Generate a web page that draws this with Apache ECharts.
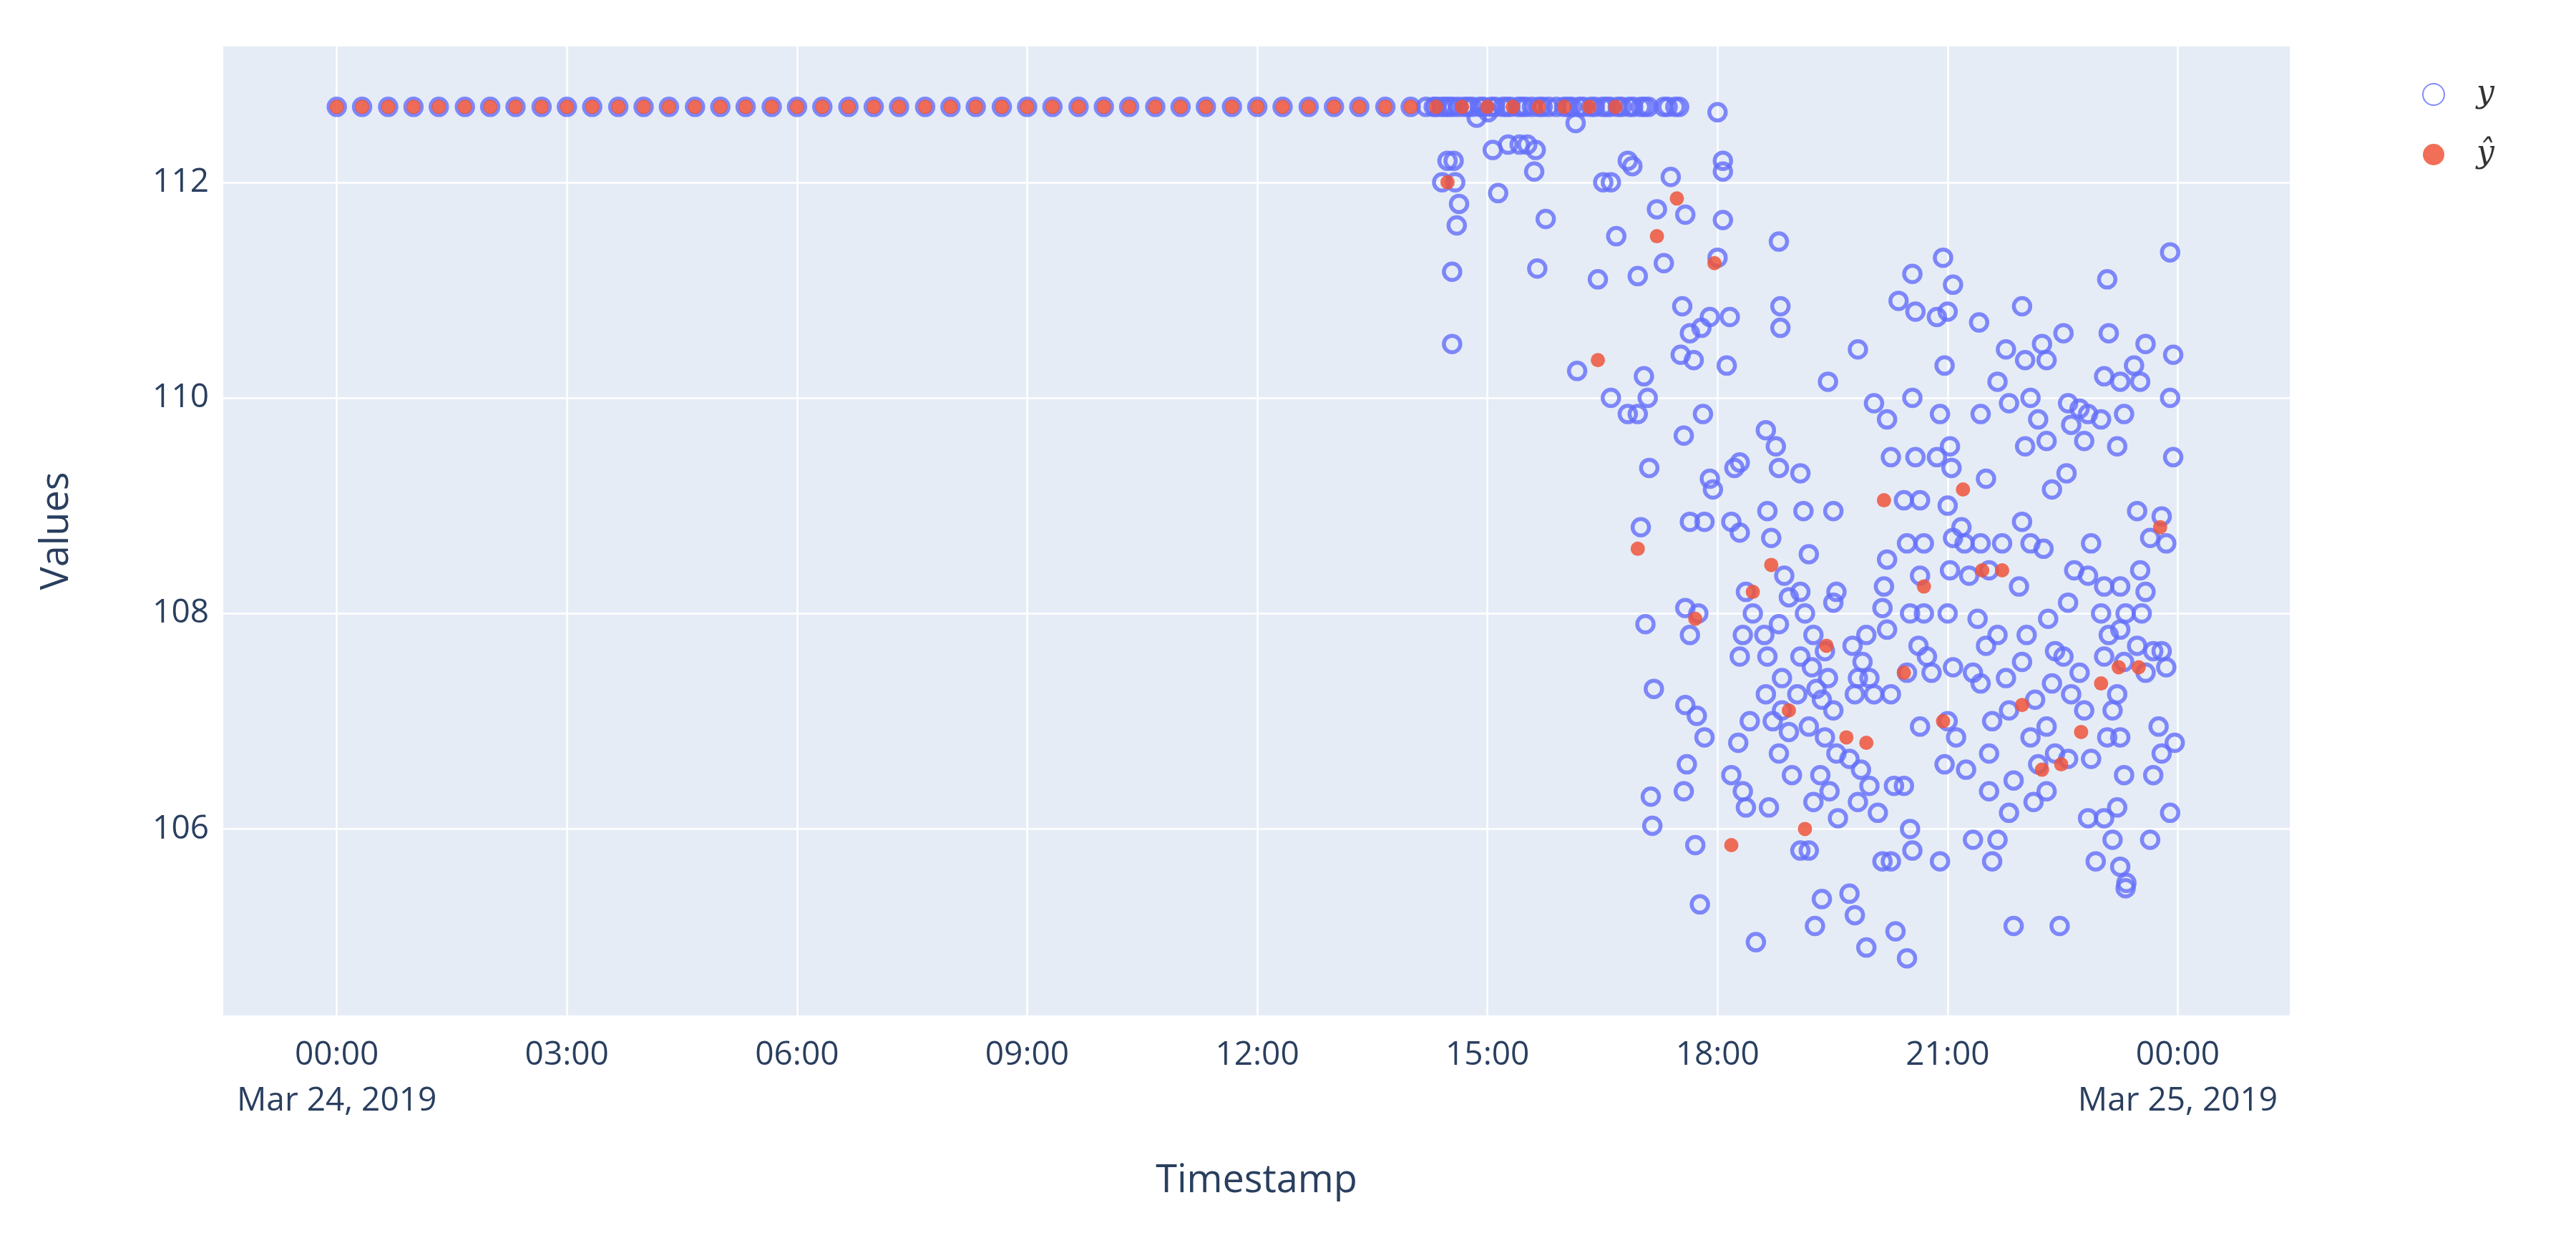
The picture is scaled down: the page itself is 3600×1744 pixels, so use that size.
<!DOCTYPE html>
<html><head><meta charset="utf-8">
<script src="https://cdn.jsdelivr.net/npm/echarts@6/dist/echarts.min.js"></script>
<style>html,body{margin:0;background:#fff}#c{width:3600px;height:1744px}</style></head>
<body><div id="c"></div>
<script>
// Time in hours since Mar 24, 2019 00:00
const flatValue = 112.7;
const flatTimesBoth = [0,0.33,0.67,1,1.33,1.67,2,2.33,2.67,3,3.33,3.67,4,4.33,4.67,5,5.33,5.67,6,6.33,6.67,7,7.33,7.67,8,8.33,8.67,9,9.33,9.67,10,10.33,10.67,11,11.33,11.67,12,12.33,12.67,13,13.33,13.67,14,14.33];
const flatTimesYOnly = [14.2,14.3,14.4,14.45,14.5,14.55,14.62,14.7,14.75,14.8,14.9,14.95,15.05,15.1,15.2,15.25,15.3,15.4,15.45,15.5,15.58,15.67,15.72,15.8,15.9,16.0,16.05,16.1,16.2,16.25,16.35,16.4,16.5,16.55,16.6,16.7,16.75,16.85,16.9,17.0,17.05,17.1,17.3,17.35,17.45,17.5];
const flatTimesYhatOnly = [14.67,15.0,15.33,15.67,16.0,16.33,16.67];
const yScatter = [
[14.48,112.2],[14.56,112.2],[14.41,112.0],[14.58,112.0],[14.63,111.8],[14.60,111.6],[14.54,111.17],[14.54,110.5],
[14.86,112.6],[15.01,112.65],[15.07,112.3],[15.14,111.9],[15.27,112.35],[15.42,112.35],[15.52,112.35],[15.63,112.3],[15.61,112.1],[15.76,111.66],[15.65,111.2],
[16.15,112.55],[16.51,112.0],[16.61,112.0],[16.68,111.5],[16.44,111.1],[16.17,110.25],[16.83,112.2],[16.89,112.15],[16.61,110.0],[17.04,110.2],[17.09,110.0],
[17.21,111.75],[17.30,111.25],[17.39,112.05],[16.96,111.13],[17.06,107.9],[17.11,109.35],[17.17,107.3],[17.0,108.8],[17.13,106.3],[17.15,106.03],[16.83,109.85],[16.96,109.85],
[17.58,111.7],[17.54,110.85],[17.64,110.6],[17.52,110.4],[17.69,110.35],[17.56,109.65],[17.79,110.65],[17.9,110.75],[18.0,111.3],[18.07,112.2],[18.07,111.65],[18.12,110.3],[18.0,112.65],[18.07,112.1],[18.16,110.75],
[17.81,109.85],[17.94,109.15],[17.9,109.25],[17.64,108.85],[17.83,108.85],[17.58,108.05],[17.64,107.8],[17.75,108.0],[17.58,107.15],[17.73,107.05],[17.83,106.85],[17.6,106.6],[17.56,106.35],[17.71,105.85],[17.77,105.3],
[18.22,109.35],[18.29,109.4],[18.18,108.85],[18.29,108.75],[18.37,108.2],[18.33,107.8],[18.46,108.0],[18.29,107.6],[18.42,107.0],[18.27,106.8],[18.18,106.5],[18.33,106.35],[18.37,106.2],[18.5,104.95],
[18.63,109.7],[18.76,109.55],[18.8,109.35],[18.8,111.45],[18.82,110.85],[18.82,110.65],[18.65,108.95],[18.7,108.7],[18.87,108.35],[18.93,108.15],[18.8,107.9],[18.61,107.8],[18.65,107.6],[18.84,107.4],[18.63,107.25],[18.84,107.1],[18.72,107.0],[18.8,106.7],[18.67,106.2],[18.93,106.9],[18.97,106.5],
[19.08,109.3],[19.12,108.95],[19.19,108.55],[19.08,108.2],[19.14,108.0],[19.25,107.8],[19.08,107.6],[19.23,107.5],[19.04,107.25],[19.29,107.3],[19.19,106.95],[19.34,106.5],[19.25,106.25],[19.08,105.8],[19.19,105.8],[19.27,105.1],[19.36,105.35],
[19.44,110.15],[19.51,108.95],[19.55,108.2],[19.51,108.1],[19.4,107.65],[19.44,107.4],[19.36,107.2],[19.51,107.1],[19.4,106.85],[19.55,106.7],[19.46,106.35],[19.57,106.1],[19.72,105.4],[19.79,105.2],
[19.83,110.45],[19.94,107.8],[19.76,107.7],[19.89,107.55],[19.83,107.4],[19.79,107.25],[19.98,107.4],[20.04,107.25],[19.72,106.65],[19.87,106.55],[19.98,106.4],[19.83,106.25],[19.94,104.9],
[20.04,109.95],[20.09,106.15],[20.15,105.7],[20.21,109.8],[20.26,109.45],[20.21,108.5],[20.17,108.25],[20.15,108.05],[20.21,107.85],[20.26,107.25],[20.3,106.4],[20.26,105.7],[20.32,105.05],
[20.36,110.9],[20.43,109.05],[20.47,108.65],[20.51,108.0],[20.47,107.45],[20.43,106.4],[20.51,106.0],[20.54,105.8],[20.47,104.8],
[20.54,111.15],[20.58,110.8],[20.54,110.0],[20.58,109.45],[20.64,109.05],[20.69,108.65],[20.64,108.35],[20.69,108.0],[20.62,107.7],[20.73,107.6],[20.64,106.95],[20.79,107.45],
[20.86,109.45],[20.9,109.85],[20.96,110.3],[20.86,110.75],[20.94,111.3],[21.07,111.05],[21.0,110.8],[21.03,109.55],[21.05,109.35],[21.0,109.0],[21.07,108.7],[21.03,108.4],[21.0,108.0],[21.07,107.5],[21.0,107.0],[21.11,106.85],[20.96,106.6],[20.9,105.7],
[21.18,108.8],[21.22,108.65],[21.28,108.35],[21.33,107.45],[21.24,106.55],[21.33,105.9],
[21.41,110.7],[21.43,109.85],[21.5,109.25],[21.43,108.65],[21.54,108.4],[21.39,107.95],[21.5,107.7],[21.43,107.35],[21.58,107.0],[21.54,106.7],[21.65,105.9],[21.58,105.7],[21.54,106.35],
[21.76,110.45],[21.65,110.15],[21.8,109.95],[21.71,108.65],[21.65,107.8],[21.76,107.4],[21.8,107.1],[21.86,106.45],[21.8,106.15],[21.86,105.1],
[21.97,110.85],[22.01,110.35],[22.08,110.0],[22.01,109.55],[21.97,108.85],[22.08,108.65],[21.93,108.25],[22.03,107.8],[21.97,107.55],[22.14,107.2],[22.08,106.85],[22.18,106.6],[22.12,106.25],
[22.23,110.5],[22.29,110.35],[22.18,109.8],[22.29,109.6],[22.36,109.15],[22.25,108.6],[22.31,107.95],[22.4,107.65],[22.36,107.35],[22.29,106.95],[22.4,106.7],[22.29,106.35],[22.46,105.1],
[22.51,110.6],[22.57,109.95],[22.61,109.75],[22.55,109.3],[22.65,108.4],[22.57,108.1],[22.51,107.6],[22.61,107.25],[22.57,106.65],
[22.72,109.9],[22.78,109.6],[22.83,109.85],[22.87,108.65],[22.83,108.35],[22.72,107.45],[22.78,107.1],[22.87,106.65],[22.83,106.1],[22.93,105.7],
[23.0,109.8],[23.04,110.2],[23.08,111.1],[23.1,110.6],[23.04,108.25],[23.0,108.0],[23.1,107.8],[23.04,107.6],[23.15,107.1],[23.08,106.85],[23.04,106.1],[23.15,105.9],[23.21,106.2],
[23.25,110.15],[23.3,109.85],[23.21,109.55],[23.25,108.25],[23.32,108.0],[23.25,107.85],[23.3,107.55],[23.21,107.25],[23.25,106.85],[23.3,106.5],[23.25,105.65],[23.32,105.45],[23.33,105.5],
[23.43,110.3],[23.51,110.15],[23.58,110.5],[23.47,108.95],[23.51,108.4],[23.58,108.2],[23.53,108.0],[23.47,107.7],[23.58,107.45],[23.68,107.65],[23.64,108.7],[23.79,108.9],[23.85,108.65],[23.79,107.65],[23.85,107.5],[23.75,106.95],[23.79,106.7],
[23.9,110.0],[23.94,109.45],[23.94,110.4],[23.9,111.35],[23.9,106.15],[23.96,106.8],[23.68,106.5],[23.64,105.9]
];
const yhatScatter = [
[14.48,112.0],[17.47,111.85],[17.21,111.5],[17.96,111.25],[16.44,110.35],[16.96,108.6],[17.71,107.95],[18.46,108.2],[18.7,108.45],[18.18,105.85],[18.93,107.1],[19.14,106.0],[19.42,107.7],[19.68,106.85],[19.94,106.8],[20.17,109.05],[20.43,107.45],[20.69,108.25],[20.94,107.0],[21.2,109.15],[21.45,108.4],[21.71,108.4],[21.97,107.15],[22.23,106.55],[22.48,106.6],[22.74,106.9],[23.0,107.35],[23.23,107.5],[23.49,107.5],[23.77,108.8]
];
const xTicks = [0,3,6,9,12,15,18,21,24];
const xTickLabels = ['00:00\nMar 24, 2019','03:00','06:00','09:00','12:00','15:00','18:00','21:00','00:00\nMar 25, 2019'];
const yTicks = [106,108,110,112];

const yData = flatTimesBoth.map(t=>[t,flatValue]).concat(flatTimesYOnly.map(t=>[t,flatValue])).concat(yScatter);
const yhatData = flatTimesBoth.map(t=>[t,flatValue]).concat(flatTimesYhatOnly.map(t=>[t,flatValue])).concat(yhatScatter);

const txt = '#2a3f5f';
const chart = echarts.init(document.getElementById('c'));
chart.setOption({
  backgroundColor:'#fff',
  animation:false,
  grid:{left:312,right:400,top:65,bottom:325,backgroundColor:'#E5ECF6',show:true,borderWidth:0},
  legend:{orient:'vertical',left:3380,top:105,itemGap:40,itemWidth:30,itemHeight:30,
    textStyle:{fontFamily:'DejaVu Serif',fontStyle:'italic',fontSize:44,color:'#333',padding:[0,0,0,40]},
    data:['y','ŷ']},
  xAxis:{type:'value',min:-1.48,max:25.46,
    name:'Timestamp',nameLocation:'middle',nameGap:205,nameTextStyle:{fontSize:54,color:txt,fontFamily:'Open Sans'},
    axisLine:{show:false},axisTick:{show:false,customValues:xTicks},
    splitLine:{show:true,lineStyle:{color:'#fff',width:2.5}},
    axisLabel:{customValues:xTicks,fontSize:46,color:txt,fontFamily:'Open Sans',margin:24,lineHeight:64,
      formatter:v=>xTickLabels[xTicks.indexOf(Math.round(v))]}},
  yAxis:{type:'value',min:104.27,max:113.26,
    name:'Values',nameLocation:'middle',nameGap:205,nameTextStyle:{fontSize:54,color:txt,fontFamily:'Open Sans'},
    axisLine:{show:false},axisTick:{show:false,customValues:yTicks},
    splitLine:{show:true,lineStyle:{color:'#fff',width:2.5}},
    axisLabel:{customValues:yTicks,fontSize:46,color:txt,fontFamily:'Open Sans',margin:20}},
  series:[
    {name:'y',type:'scatter',data:yData,symbol:'circle',symbolSize:23,
     itemStyle:{color:'rgba(0,0,0,0)',borderColor:'#636EFA',borderWidth:5.5}},
    {name:'ŷ',type:'scatter',data:yhatData,symbol:'circle',symbolSize:20,
     itemStyle:{color:'#EF553B',opacity:0.85}}
  ]
});
</script></body></html>
